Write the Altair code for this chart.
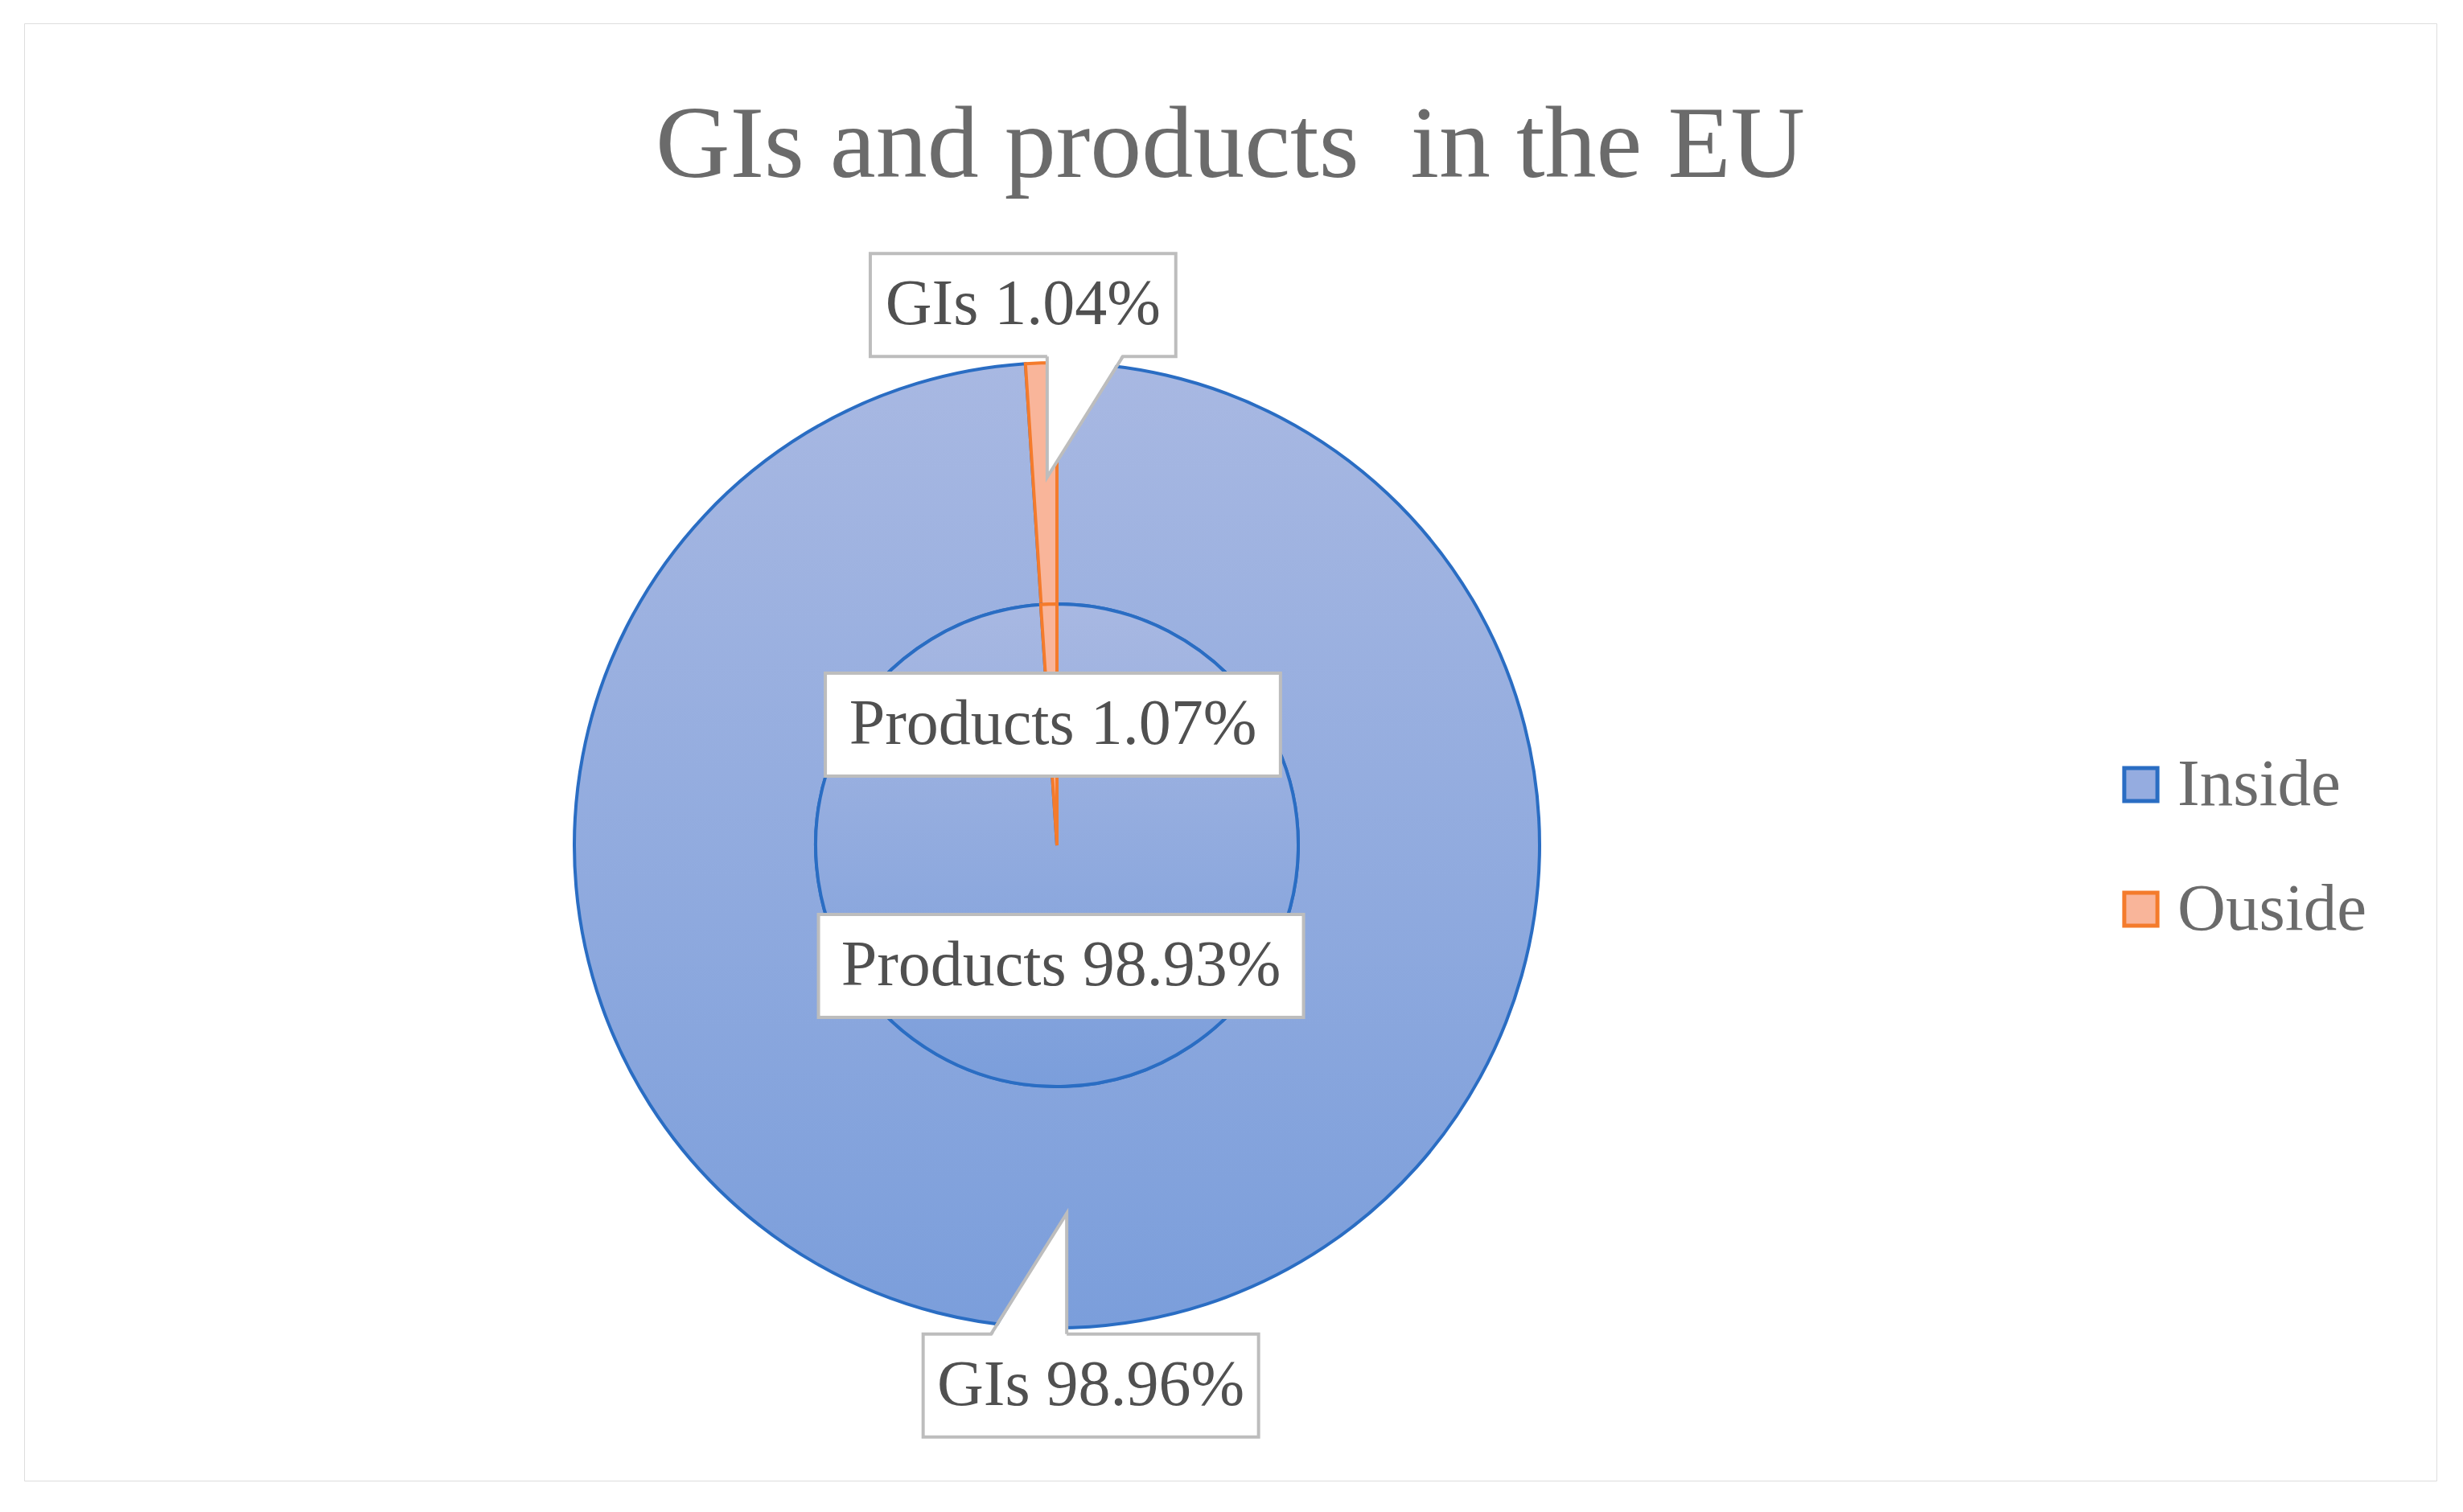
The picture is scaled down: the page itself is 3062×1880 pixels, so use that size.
import math
import altair as alt
import pandas as pd

# ---- data ----
rings = ["GIs", "Products"]
categories = ["Inside", "Ouside"]
gis_values = [98.96, 1.04]
products_values = [98.93, 1.07]
title_text = "GIs and products \u00a0in the EU"

rows = []
for ring, vals in zip(rings, [gis_values, products_values]):
    for cat, v in zip(categories, vals):
        rows.append({"ring": ring, "cat": cat, "value": v})
df = pd.DataFrame(rows)

# ---- layout / style constants ----
W, H = 2999, 1812
CX, CY = 1284, 1022
R_OUT, R_IN = 600, 300
FONT = "Liberation Serif"
BLUE_LINE = "#2a6dc3"
ORANGE_LINE = "#f47b2c"
BLUE_FILL = "#95ace0"
ORANGE_FILL = "#f9b59a"
BOX_LINE = "#bdbdbd"

blue_grad = {
    "gradient": "linear", "x1": 0, "y1": 0, "x2": 0, "y2": 1,
    "stops": [{"offset": 0, "color": "#a8b8e2"}, {"offset": 1, "color": "#7b9edb"}],
}

legend_props = dict(
    title=None, orient="none", legendX=2590, legendY=905,
    symbolType="square", symbolSize=1700, symbolStrokeWidth=5,
    labelFont=FONT, labelFontSize=83, labelColor="#6b6b6b", labelLimit=500,
    labelOffset=4, rowPadding=71, padding=0,
)

base = alt.Chart(df).transform_window(
    cum="sum(value)", groupby=["ring"], sort=[alt.SortField("cat")]
).transform_calculate(
    start="datum.cum - datum.value",
    mid="datum.cum - datum.value / 2",
    label="datum.ring + ' ' + format(datum.value, '.2f') + '%'",
)

theta = alt.Theta("start:Q", scale=alt.Scale(domain=[0, 100], range=[0, 2 * math.pi]))
fill = alt.condition(
    "datum.cat == 'Inside'",
    alt.value(blue_grad),
    alt.Fill(
        "cat:N",
        scale=alt.Scale(domain=categories, range=[BLUE_FILL, ORANGE_FILL]),
        legend=alt.Legend(**legend_props),
    ),
)
stroke = alt.Stroke(
    "cat:N",
    scale=alt.Scale(domain=categories, range=[BLUE_LINE, ORANGE_LINE]),
    legend=alt.Legend(**legend_props),
)

ring = base.transform_filter("datum.ring == 'GIs'").mark_arc(
    radius=R_OUT, radius2=R_IN, strokeWidth=4
).encode(theta=theta, theta2="cum:Q", fill=fill, stroke=stroke,
         x=alt.value(CX), y=alt.value(CY))

pie = base.transform_filter("datum.ring == 'Products'").mark_arc(
    radius=R_IN, strokeWidth=4
).encode(theta=theta, theta2="cum:Q", fill=fill, stroke=stroke,
         x=alt.value(CX), y=alt.value(CY))

lab = base.transform_calculate(
    ang="(datum.mid / 100) * 2 * PI + (datum.ring == 'GIs' ? -0.03 : 0)",
    lr="datum.ring == 'GIs' ? 673 : 150",
    lx=f"{CX} + datum.lr * sin(datum.ang)",
    ly=f"{CY} - datum.lr * cos(datum.ang)",
    bw="45 + 37.2 * length(datum.label)",
    x0="datum.lx - datum.bw / 2",
    x1="datum.lx + datum.bw / 2",
    y0="datum.ly - 64",
    y1="datum.ly + 64",
    dir=f"datum.ly < {CY} ? 1 : -1",
    ve="datum.lx + 30 * datum.dir",
    ob="datum.lx + 124 * datum.dir",
    by="datum.ly + 64 * datum.dir",
    ty="datum.by + 150 * datum.dir",
)

boxes = lab.mark_rect(fill="white", stroke=BOX_LINE, strokeWidth=4).encode(
    x=alt.X("x0:Q", scale=None, axis=None), x2="x1:Q",
    y=alt.Y("y0:Q", scale=None, axis=None), y2="y1:Q",
)

ptr = lab.transform_filter("datum.ring == 'GIs'")

ptr_fill = ptr.transform_fold(["ve", "ob"], as_=["k", "px"]).transform_calculate(
    ay="datum.by - 4 * datum.dir",
    ay2="datum.k == 've' ? datum.ty : datum.by - 4 * datum.dir",
).mark_area(fill="white", strokeWidth=0).encode(
    x=alt.X("px:Q", scale=None, axis=None),
    y=alt.Y("ay:Q", scale=None, axis=None), y2="ay2:Q",
    detail="label:N",
)

ptr_line = ptr.transform_calculate(
    pA="datum.ve", pT="datum.ve", pB="datum.ob"
).transform_fold(["pA", "pT", "pB"], as_=["k", "px"]).transform_calculate(
    py="datum.k == 'pT' ? datum.ty : datum.by",
    ord="datum.k == 'pA' ? 0 : (datum.k == 'pT' ? 1 : 2)",
).mark_line(stroke=BOX_LINE, strokeWidth=4).encode(
    x=alt.X("px:Q", scale=None, axis=None),
    y=alt.Y("py:Q", scale=None, axis=None),
    order=alt.Order("ord:Q"),
    detail="label:N",
)

texts = lab.mark_text(
    font=FONT, fontSize=80, color="#505050", baseline="middle", align="center"
).encode(
    x=alt.X("lx:Q", scale=None, axis=None),
    y=alt.Y("ly:Q", scale=None, axis=None),
    text="label:N",
)

chart = alt.layer(ring, pie, boxes, ptr_fill, ptr_line, texts).properties(
    width=W, height=H,
    title=alt.TitleParams(
        title_text, font=FONT, fontSize=128, fontWeight="normal", color="#6b6b6b",
        anchor="middle", baseline="bottom", offset=-346,
    ),
    autosize=alt.AutoSizeParams(type="none"),
    padding={"left": 22, "top": 21, "right": 10, "bottom": 10},
).configure_view(stroke="#d0d0d0", strokeWidth=6).configure(background="white")

chart.save("out.html", embed_options={"renderer": "svg", "actions": False})
